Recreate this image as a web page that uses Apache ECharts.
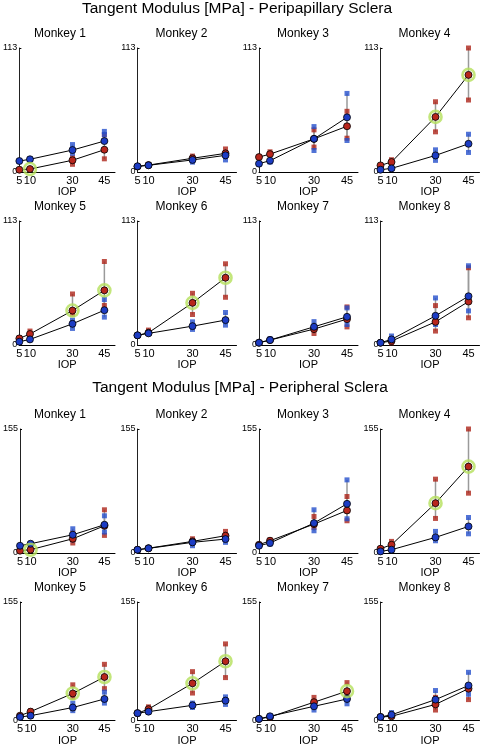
<!DOCTYPE html>
<html>
<head>
<meta charset="utf-8">
<script src="https://cdn.jsdelivr.net/npm/echarts@6/dist/echarts.min.js"></script>
<style>
html,body{margin:0;padding:0;background:#fff;}
#chart{width:480px;height:747px;}
</style>
</head>
<body>
<div id="chart"></div>
<script>
// ---------- DATA ----------
const iop = [5, 10, 30, 45];
const monkeyNames = ['Monkey 1','Monkey 2','Monkey 3','Monkey 4','Monkey 5','Monkey 6','Monkey 7','Monkey 8'];
const regionTitles = ['Tangent Modulus [MPa] - Peripapillary Sclera', 'Tangent Modulus [MPa] - Peripheral Sclera'];
const ppYTicks = [0, 113];
const perYTicks = [0, 155];

// Peripapillary sclera
const ppBlueMean = [
  [10, 11.6, 20, 28.2],
  [5.2, 6.1, 11, 15.2],
  [7.6, 10.3, 30.2, 49.8],
  [2.1, 3.3, 15.1, 25.7],
  [3, 5.1, 19.3, 31.7],
  [8.8, 10.6, 17.2, 22.7],
  [2.1, 4.5, 16.6, 25.7],
  [2.1, 5.1, 26.6, 44.4]
];
const ppRedMean = [
  [2.1, 2.7, 10.7, 20.3],
  [5, 6.3, 12.5, 17],
  [13.6, 16.3, 30.2, 41.7],
  [6, 9.1, 50.2, 88.5],
  [6, 10, 31.4, 49.8],
  [8.8, 11.2, 38.4, 61.3],
  [2.1, 4.5, 14.5, 23.6],
  [2.1, 3.6, 21.1, 39.6]
];
const ppBlueSq = [
  [[10],[12],[17,25],[34,37]],
  [[5],[6],[9,13],[11,17]],
  [[7.6],[9],[19.6,41.4],[28.7,71.6]],
  [[2],[3.5],[10.6,20.2],[17.8,34.4]],
  [[3],[5],[15.1,22.7],[25.4,41.4]],
  [[8.8],[11],[14.2,21.1],[18.1,29.6]],
  [[2],[5.7],[15,21.3],[18.7,33.8]],
  [[2],[8.2],[18.7,42.9],[31.1,72.2]]
];
const ppRedSq = [
  [[2],[3],[7,13],[12,34]],
  [[5.5],[6.5],[11,14.5],[14,21]],
  [[13.6],[18.4],[22.7,38.4],[30.8,55.3]],
  [[6],[11.2],[36.6,64],[65.6,113]],
  [[6.6],[12.7],[28,46.5],[36,76.1]],
  [[8.8],[13.6],[27.8,47.1],[43.5,74]],
  [[2],[4.5],[10.5,16],[16.5,34.7]],
  [[2],[2],[12.7,35.9],[24.8,70.4]]
];
const ppHighlight = [[1],[],[],[2,3],[2,3],[2,3],[],[]];

// Peripheral sclera
const perBlueMean = [
  [9.1, 11.6, 22.8, 35.3],
  [4.1, 5.8, 13.3, 17.4],
  [9.1, 12.5, 37.4, 61.5],
  [2, 4.1, 19.5, 33.2],
  [4.1, 5.8, 16.5, 27.7],
  [9.1, 11.1, 19.4, 25.6],
  [1.6, 5, 18.1, 27.7],
  [4.1, 7, 26.9, 45.4]
];
const perRedMean = [
  [2.9, 4.1, 17.8, 34],
  [4, 6, 14.5, 21.6],
  [10.3, 15.3, 36.1, 53.2],
  [5.4, 10.3, 62.3, 108],
  [5.8, 11.1, 35, 56.6],
  [9.1, 14.4, 48.3, 77.2],
  [1.6, 4.1, 23.5, 38],
  [4.1, 5, 20.6, 41.3]
];
const perBlueSq = [
  [[9],[12],[16.6,30.3],[26.2,46.5]],
  [[4],[6],[9.1,15],[13.3,20]],
  [[9],[11],[27.8,54],[42.8,91.4]],
  [[2],[4],[15.3,27],[24,44.4]],
  [[4],[6],[12.4,22.3],[22.3,36.7]],
  [[9],[11],[16.5,22.3],[20.6,30.5]],
  [[1.6],[5.5],[13.2,20],[21.4,30]],
  [[4],[9.9],[22,38.8],[33.9,62.7]]
];
const perRedSq = [
  [[3],[4],[12.5,25],[22,54]],
  [[4],[6],[12,17.8],[18,27]],
  [[10.3],[16.6],[32,45.7],[40.3,70.6]],
  [[5.4],[14.5],[43.2,92.3],[74.8,155]],
  [[6],[12.4],[30,46.3],[41.3,73.2]],
  [[9],[17.4],[35.5,63.6],[55.8,100]],
  [[1.6],[4],[20,29.8],[33,49.2]],
  [[4],[5],[13.2,29.8],[26.9,45]]
];
const perHighlight = [[1],[],[],[2,3],[2,3],[2,3],[3],[]];

// ---------- CHART ----------
const FONT = 'Liberation Sans, Arial, sans-serif';
const BLUE = '#1c3cc4';
const RED = '#b8261c';
const BLUE_SQ = '#2550cc';
const RED_SQ = '#ad2419';
const GREEN = '#b4e05a';

const regions = [
  {blueMean: ppBlueMean, redMean: ppRedMean, blueSq: ppBlueSq, redSq: ppRedSq, hl: ppHighlight, ticks: ppYTicks},
  {blueMean: perBlueMean, redMean: perRedMean, blueSq: perBlueSq, redSq: perRedSq, hl: perHighlight, ticks: perYTicks}
];

const colLeft = [16, 137.5, 259, 380.5];
const rowTop = [48, 221, 429, 602];
const gridW = 99, gridH = 124;

const grids = [], xAxes = [], yAxes = [], series = [], titles = [];

titles.push({text: regionTitles[0], left: 237, top: 1, textAlign: 'center', padding: 0,
  textStyle: {fontFamily: FONT, fontSize: 15.5, fontWeight: 'normal', color: '#000'}});
titles.push({text: regionTitles[1], left: 240, top: 380, textAlign: 'center', padding: 0,
  textStyle: {fontFamily: FONT, fontSize: 15.5, fontWeight: 'normal', color: '#000'}});

function whiskerItems(means, sqs) {
  return iop.map((x, i) => {
    const vals = sqs[i].concat([means[i]]);
    return [x, Math.min.apply(null, vals), Math.max.apply(null, vals)];
  });
}
function squareItems(sqs) {
  const out = [];
  iop.forEach((x, i) => sqs[i].forEach(v => out.push([x, v])));
  return out;
}

regions.forEach((R, r) => {
  monkeyNames.forEach((name, m) => {
    const g = r * 8 + m;
    const row = r * 2 + Math.floor(m / 4);
    const col = m % 4;
    const left = colLeft[col], top = rowTop[row];
    grids.push({left: left, top: top, width: gridW, height: gridH, containLabel: false});
    titles.push({text: name, left: left + 44, top: top - 20, textAlign: 'center', padding: 0,
      textStyle: {fontFamily: FONT, fontSize: 12, fontWeight: 'normal', color: '#000'}});
    xAxes.push({
      type: 'value', gridIndex: g, min: 5, max: 50,
      name: 'IOP', nameLocation: 'middle', nameGap: 11,
      nameTextStyle: {fontFamily: FONT, fontSize: 11, color: '#000', verticalAlign: 'top'},
      axisLine: {show: true, onZero: false, lineStyle: {color: '#000', width: 1}},
      axisTick: {show: false},
      axisLabel: {customValues: iop, showMinLabel: true, showMaxLabel: true, margin: 3,
        fontFamily: FONT, fontSize: 11, color: '#000'},
      splitLine: {show: false}
    });
    const ymax = R.ticks[R.ticks.length - 1];
    yAxes.push({
      type: 'value', gridIndex: g, min: R.ticks[0], max: ymax,
      axisLine: {show: true, onZero: false, lineStyle: {color: '#222', width: 1}},
      axisTick: {show: true, inside: true, length: 2, customValues: [ymax], lineStyle: {color: '#000'}},
      axisLabel: {customValues: R.ticks, showMinLabel: true, showMaxLabel: true, margin: 2,
        fontFamily: FONT, fontSize: 9, color: '#000'},
      splitLine: {show: false}
    });
    const whisk = whiskerItems(R.redMean[m], R.redSq[m]).concat(whiskerItems(R.blueMean[m], R.blueSq[m]));
    series.push({
      type: 'custom', xAxisIndex: g, yAxisIndex: g, data: whisk, z: 1, silent: true,
      encode: {x: 0, y: [1, 2]},
      renderItem: function (params, api) {
        const p1 = api.coord([api.value(0), api.value(1)]);
        const p2 = api.coord([api.value(0), api.value(2)]);
        return {type: 'line', shape: {x1: p1[0], y1: p1[1], x2: p2[0], y2: p2[1]},
          style: {stroke: '#9a9a9a', lineWidth: 1.5}};
      }
    });
    series.push({
      type: 'scatter', xAxisIndex: g, yAxisIndex: g, data: squareItems(R.redSq[m]), z: 2,
      symbol: 'rect', symbolSize: 5, itemStyle: {color: RED_SQ}, silent: true
    });
    series.push({
      type: 'scatter', xAxisIndex: g, yAxisIndex: g, data: squareItems(R.blueSq[m]), z: 2,
      symbol: 'rect', symbolSize: 5, itemStyle: {color: BLUE_SQ}, silent: true
    });
    series.push({
      type: 'line', xAxisIndex: g, yAxisIndex: g, z: 3, clip: false,
      data: iop.map((x, i) => [x, R.redMean[m][i]]),
      symbol: 'circle', symbolSize: 7, showAllSymbol: true,
      lineStyle: {color: '#000', width: 1},
      itemStyle: {color: RED, borderColor: '#000', borderWidth: 0.8}, silent: true
    });
    series.push({
      type: 'line', xAxisIndex: g, yAxisIndex: g, z: 4, clip: false,
      data: iop.map((x, i) => [x, R.blueMean[m][i]]),
      symbol: 'circle', symbolSize: 7, showAllSymbol: true,
      lineStyle: {color: '#000', width: 1},
      itemStyle: {color: BLUE, borderColor: '#000', borderWidth: 0.8}, silent: true
    });
    series.push({
      type: 'scatter', xAxisIndex: g, yAxisIndex: g, z: 5,
      data: R.hl[m].map(i => [iop[i], R.redMean[m][i]]),
      symbol: 'circle', symbolSize: 12,
      itemStyle: {color: 'rgba(0,0,0,0)', borderColor: GREEN, borderWidth: 2.6}, silent: true
    });
  });
});

const chart = echarts.init(document.getElementById('chart'), null, {renderer: 'canvas'});
chart.setOption({
  animation: false,
  backgroundColor: '#fff',
  title: titles,
  grid: grids,
  xAxis: xAxes,
  yAxis: yAxes,
  series: series
});
</script>
</body>
</html>
